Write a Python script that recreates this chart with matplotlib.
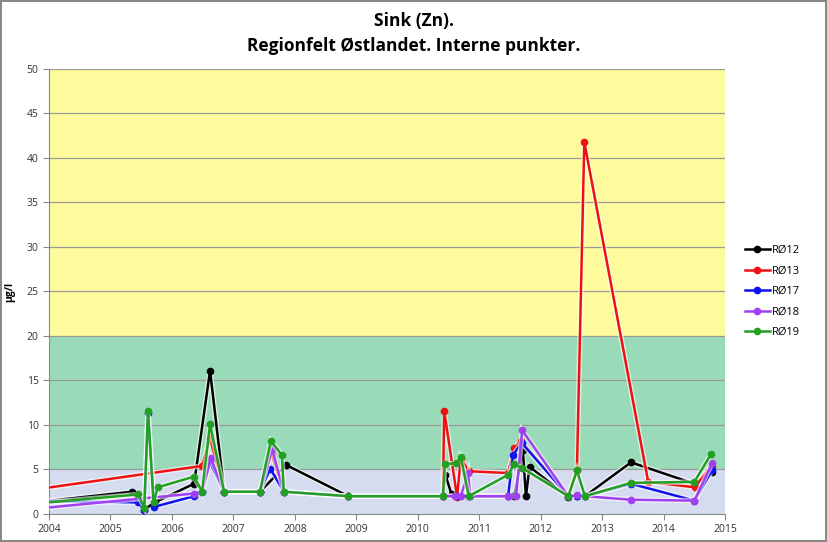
"""Sink (Zn) - Regionfelt Østlandet, interne punkter."""

import matplotlib

matplotlib.use("Agg")
import matplotlib.pyplot as plt

# decimal year / value (µg/l)
r12_x = [2003.5, 2005.35, 2005.55, 2005.72, 2006.36, 2006.62, 2006.85, 2007.43, 2007.86,
         2008.87, 2010.41, 2010.45, 2010.55, 2010.62, 2010.83, 2011.47, 2011.57, 2011.71,
         2011.76, 2011.82, 2012.45, 2012.59, 2012.72, 2013.47, 2014.5, 2014.78]
r12_y = [1.1, 2.5, 0.5, 1.3, 3.4, 16.1, 2.5, 2.5, 5.5,
         2.0, 2.0, 4.4, 2.2, 2.0, 2.0, 2.0, 2.0, 7.2,
         2.0, 5.3, 1.9, 2.0, 2.0, 5.8, 3.4, 4.7]

r13_x = [2003.0, 2006.49, 2006.62, 2006.85, 2007.43, 2007.62, 2007.82, 2008.87, 2010.41,
         2010.43, 2010.64, 2010.7, 2010.83, 2011.47, 2011.57, 2011.68, 2012.45, 2012.59,
         2012.71, 2013.75, 2014.51, 2014.78]
r13_y = [2.0, 5.4, 8.5, 2.5, 2.5, 6.8, 2.5, 2.0, 2.0,
         11.6, 1.9, 6.3, 4.8, 4.6, 7.4, 8.2, 2.0, 4.9,
         41.8, 3.6, 3.0, 5.4]

r17_x = [2003.5, 2005.45, 2005.55, 2005.61, 2005.71, 2006.36, 2006.49, 2006.62, 2006.85,
         2007.43, 2007.6, 2007.82, 2008.87, 2010.41, 2010.64, 2010.83, 2011.47, 2011.55,
         2011.69, 2012.45, 2012.59, 2012.72, 2013.47, 2014.5, 2014.79]
r17_y = [1.5, 1.3, 0.4, 11.4, 0.8, 2.0, 2.5, 5.8, 2.5,
         2.5, 5.1, 2.5, 2.0, 2.0, 2.0, 2.0, 2.0, 6.6,
         8.0, 2.0, 2.0, 2.0, 3.4, 1.5, 4.9]

r18_x = [2003.5, 2006.36, 2006.49, 2006.63, 2006.85, 2007.43, 2007.63, 2007.82, 2008.87,
         2010.41, 2010.6, 2010.7, 2010.82, 2010.85, 2011.47, 2011.6, 2011.7, 2012.45,
         2012.59, 2012.72, 2013.47, 2014.5, 2014.79]
r18_y = [0.4, 2.3, 2.5, 6.3, 2.5, 2.5, 7.3, 2.5, 2.0,
         2.0, 2.0, 2.0, 4.6, 2.0, 2.0, 2.0, 9.4, 2.0,
         2.1, 2.0, 1.6, 1.5, 5.7]

r19_x = [2003.5, 2005.45, 2005.55, 2005.61, 2005.7, 2005.77, 2006.36, 2006.49, 2006.62,
         2006.85, 2007.43, 2007.61, 2007.79, 2007.82, 2008.87, 2010.41, 2010.44, 2010.62,
         2010.7, 2010.83, 2011.47, 2011.57, 2011.69, 2012.45, 2012.59, 2012.72, 2013.47,
         2014.5, 2014.77]
r19_y = [1.0, 2.2, 0.7, 11.6, 1.3, 3.0, 4.2, 2.5, 10.1,
         2.5, 2.5, 8.2, 6.6, 2.5, 2.0, 2.0, 5.6, 5.7,
         6.4, 2.0, 4.4, 5.6, 5.2, 2.0, 4.9, 2.0, 3.5,
         3.6, 6.7]

series = [
    ("RØ12", r12_x, r12_y, "#000000"),
    ("RØ13", r13_x, r13_y, "#ee1111"),
    ("RØ17", r17_x, r17_y, "#1111ee"),
    ("RØ18", r18_x, r18_y, "#a040f0"),
    ("RØ19", r19_x, r19_y, "#22a022"),
]

bands = [(0, 5, "#d5dcef"), (5, 20, "#99dbb8"), (20, 50, "#fdfb9c")]
year_ticks = list(range(2004, 2016))
value_ticks = list(range(0, 55, 5))

plt.rcParams["font.family"] = ["Open Sans", "DejaVu Sans"]

fig = plt.figure(figsize=(8.27, 5.42), dpi=100)
fig.patch.set_edgecolor("#888888")
fig.patch.set_linewidth(1.5)
ax = fig.add_axes([0.0593, 0.0517, 0.8174, 0.821])

for lo, hi, color in bands:
    ax.axhspan(lo, hi, color=color, zorder=0, lw=0)
for v in value_ticks[1:]:
    ax.axhline(v, color="#9a9a9a", lw=0.9, zorder=1)

# light halo under each line (excel look), then line + markers
for i, (name, xs, ys, color) in enumerate(series):
    ax.plot(xs, ys, color="white", lw=3.8, alpha=0.6, zorder=3 + 2 * i, solid_joinstyle="miter")
    ax.plot(xs, ys, color=color, lw=1.8, marker="o", ms=4.5, label=name, zorder=4 + 2 * i)

ax.set_xlim(2004, 2015)
ax.set_ylim(0, 50)
ax.set_xticks(year_ticks)
ax.set_yticks(value_ticks)
ax.tick_params(labelsize=7.5, colors="#333333", length=4, color="#888888")
for side in ["top", "right"]:
    ax.spines[side].set_visible(False)
ax.spines["left"].set_color("#888888")
ax.spines["bottom"].set_color("#888888")
ax.set_ylabel("µg/l", fontsize=7.5, fontweight="bold", labelpad=8)

fig.text(0.5, 0.962, "Sink (Zn).", ha="center", va="center", fontsize=12.5, fontweight="bold")
fig.text(0.5, 0.915, "Regionfelt Østlandet. Interne punkter.", ha="center", va="center",
         fontsize=12.5, fontweight="bold")

leg = ax.legend(loc="center left", bbox_to_anchor=(1.015, 0.5), frameon=False, fontsize=8,
                handlelength=2.2, labelspacing=0.85, handletextpad=0.2)

fig.savefig("out.png", dpi=100, edgecolor=fig.get_edgecolor())
